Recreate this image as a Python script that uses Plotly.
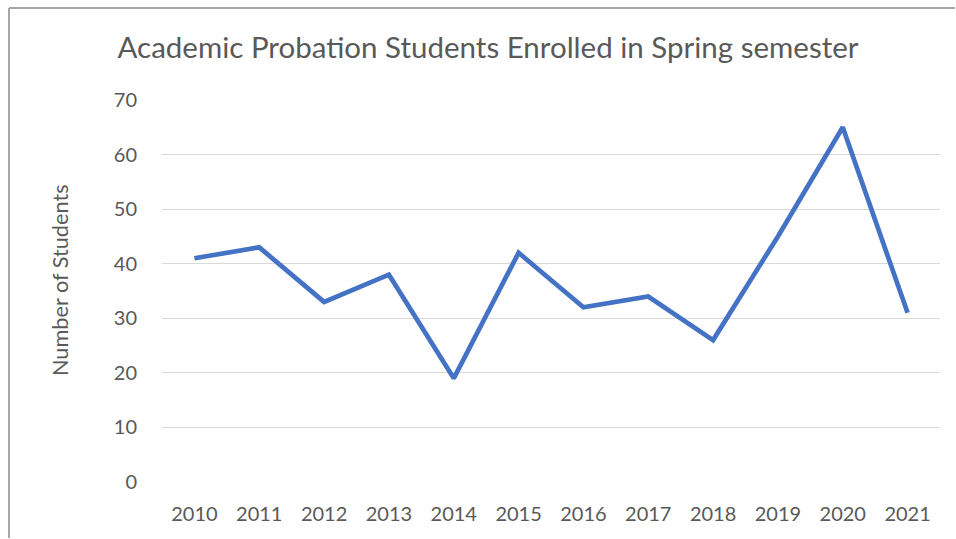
import plotly.graph_objects as go

years = ["2010", "2011", "2012", "2013", "2014", "2015", "2016", "2017", "2018", "2019", "2020", "2021"]
students = [41, 43, 33, 38, 19, 42, 32, 34, 26, 45, 65, 31]
y_ticks = [0, 10, 20, 30, 40, 50, 60, 70]

W, H = 956, 539
L, R, T, B = 162, 16, 100, 57
pw = W - L - R
ph = H - T - B

fig = go.Figure()
fig.add_trace(go.Scatter(
    x=years, y=students, mode="lines",
    line=dict(color="#4472C4", width=4.7),
    hoverinfo="x+y",
))

font_fam = "Lato, 'Open Sans', sans-serif"
fig.update_layout(
    width=W, height=H,
    margin=dict(l=L, r=R, t=T, b=B),
    paper_bgcolor="white", plot_bgcolor="white",
    showlegend=False,
    font=dict(family=font_fam, color="#595959", size=20),
    title=dict(
        text="Academic Probation Students Enrolled in Spring semester",
        x=488 / W, xref="container", xanchor="center",
        y=1 - 48 / H, yref="container", yanchor="middle",
        font=dict(size=29.5, color="#595959", family=font_fam),
    ),
    xaxis=dict(
        type="category", range=[-0.5, 11.5],
        showgrid=False, zeroline=False, showline=False,
        ticks="", ticklabelstandoff=18,
        tickfont=dict(size=20, color="#595959"),
    ),
    yaxis=dict(
        range=[0, 70], tickvals=y_ticks,
        showgrid=True, gridcolor="#D9D9D9", gridwidth=1.3,
        zeroline=False, showline=False, ticks="",
        ticklabelstandoff=24,
        tickfont=dict(size=20, color="#595959"),
    ),
)

fig.add_annotation(
    text="Number of Students", textangle=-90,
    xref="paper", yref="paper",
    x=(60 - L) / pw, y=(H - B - 280) / ph,
    xanchor="center", yanchor="middle", showarrow=False,
    font=dict(size=21.7, color="#595959", family=font_fam),
)

# outer chart-area border (left and top edges visible)
x_left = (9 - L) / pw
y_top = (H - B - 8) / ph
x_right = (W - 1 - L) / pw
y_bottom = (H - B - H + 1) / ph
fig.add_shape(type="line", xref="paper", yref="paper",
              x0=x_left, x1=x_right, y0=y_top, y1=y_top,
              line=dict(color="#A6A6A6", width=2))
fig.add_shape(type="line", xref="paper", yref="paper",
              x0=x_left, x1=x_left, y0=y_bottom, y1=y_top,
              line=dict(color="#A6A6A6", width=2))

fig.write_html(
    "out.html",
    config={"displayModeBar": False},
    post_script="document.body.style.margin='0';",
)
